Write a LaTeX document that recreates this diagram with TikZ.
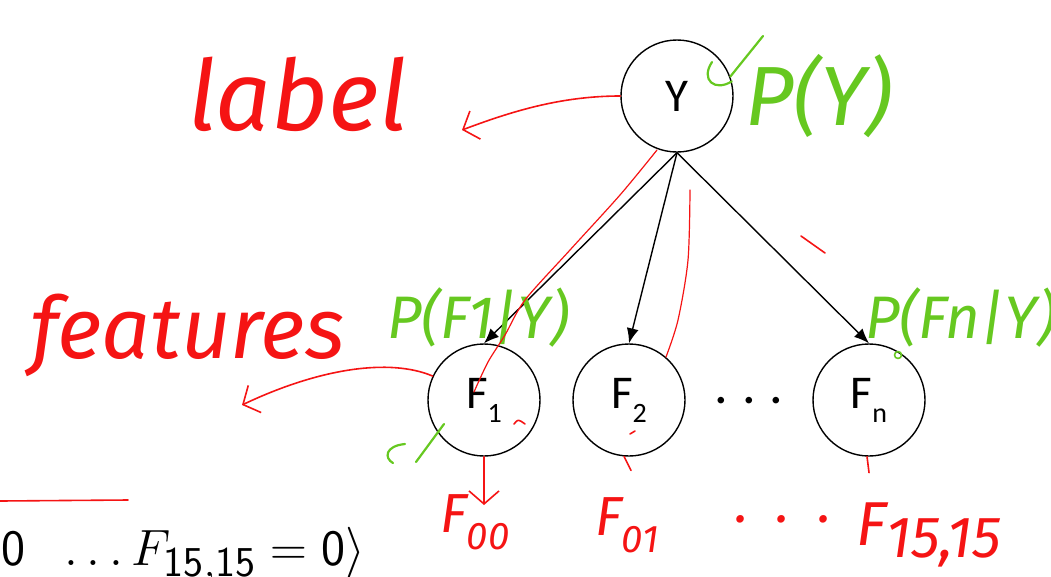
\documentclass[tikz,border=0pt]{standalone}
\usepackage{graphicx}
\usepackage{fontspec}
\usetikzlibrary{positioning,arrows.meta}
\newfontfamily\carlito{Carlito}
\newfontfamily\hand{Fira Sans}
\definecolor{inkred}{RGB}{245,20,20}
\definecolor{inkgreen}{RGB}{102,200,32}

\begin{document}
\begin{tikzpicture}[x=1pt,y=-1pt, var/.style={circle, draw=black, line width=1.4pt, minimum size=112pt, inner sep=0pt, font=\carlito\fontsize{47}{47}\selectfont}, edge/.style={-{Latex[length=15pt,width=12pt]}, line width=1.4pt}, redink/.style={draw=inkred, line width=1.6pt, line cap=round, line join=round}, greenink/.style={draw=inkgreen, line width=2.2pt, line cap=round, line join=round}, barb/.style={-{Straight Barb[length=13pt,width=30pt]}}, redtext/.style={text=inkred, inner sep=0pt, font=\hand\itshape\fontsize{#1}{#1}\selectfont}, greentext/.style={text=inkgreen, inner sep=0pt, font=\hand\itshape\fontsize{#1}{#1}\selectfont}]
\useasboundingbox (0,0) rectangle (1051,576);
\clip (0,0) rectangle (1051,576);
\node[var] (Y) at (677,96) {Y};
\node[var] (F1) at (484,400) {F\raisebox{-14pt}{\fontsize{28}{28}\selectfont 1}};
\node[var] (F2) at (629,400) {F\raisebox{-14pt}{\fontsize{28}{28}\selectfont 2}};
\node[font=\carlito\fontsize{46}{46}\selectfont, inner sep=0pt] (dots) at (749,405) {·\hspace{16pt}·\hspace{16pt}·};
\node[var] (Fn) at (869,400) {F\raisebox{-14pt}{\fontsize{28}{28}\selectfont n}};
\draw[edge] (Y.south) -- (F1.north);
\draw[edge] (Y.south) -- (F2.north);
\draw[edge] (Y.south) -- (Fn.north);
\node[redtext=98, anchor=base west] (labeltext) at (188,130) {label};
\node[redtext=86, anchor=base west] (feattext) at (30,358) {features};
\node[redtext=55, anchor=base west] (f00) at (440,532) {F\textsubscript{00}};
\node[redtext=55, anchor=base west] (f01) at (595,535) {F\textsubscript{01}};
\node[redtext=55, anchor=base west] (fdots) at (735,522) {.\ \ .\ \ .};
\node[redtext=62, anchor=base west] (f1515) at (856,545) {F\raisebox{-12pt}{\fontsize{58}{58}\selectfont 15,15}};
\node[greentext=84, anchor=base west] (py) at (745,125) {P(Y)};
\node[greentext=60, anchor=base west] (pf1) at (387,338) {P(F1|Y)};
\node[greentext=60, anchor=base west] (pfn) at (865,338) {P(Fn|Y)};
\node[anchor=base west, inner sep=0pt] (eq) at (1,565) {\scalebox{2.05}{\fontsize{24.88}{25}\selectfont $\mathsf{0}\ \ \ldots F_{\mathsf{15,15}} = \mathsf{0}\rangle$}};
\coordinate (labeltip) at (462,130);
\coordinate (feattip) at (242,405);
\coordinate (f00tip) at (484,505);
\draw[redink, barb] (Y.west) .. controls (560,96) and (510,112) .. (labeltip);
\draw[redink, barb] (F1.155) .. controls (390,358) and (320,368) .. (feattip);
\draw[redink, barb] (F1.south) -- (f00tip);
\draw[redink, line width=1.2pt] plot[smooth] coordinates {(657,150) (620,195) (570,250) (525,300) (505,335) (488,362) (474,392)};
\draw[redink, line width=1.2pt] plot[smooth] coordinates {(690,190) (688,260) (678,320) (666,357)};
\draw[redink] (801,236) -- (825,253);
\draw[redink] (514,424) .. controls (518,419) .. (525,424);
\draw[redink] (630,434) -- (635,431);
\draw[redink] (F2.265) -- ++(7,14);
\draw[redink] (Fn.268) -- ++(2,16);
\draw[redink] (0,501) -- (128,500);
\draw[greenink] (763,36) -- (Y.20);
\draw[greenink] (712,62) .. controls (700,80) and (715,92) .. (Y.15);
\draw[greenink] (405,444) .. controls (385,446) and (384,458) .. (393,463);
\draw[greenink] (444,424) -- (416,462);
\draw[greenink, line width=1.6pt] (898,355) circle (3.5);
\end{tikzpicture}
\end{document}
